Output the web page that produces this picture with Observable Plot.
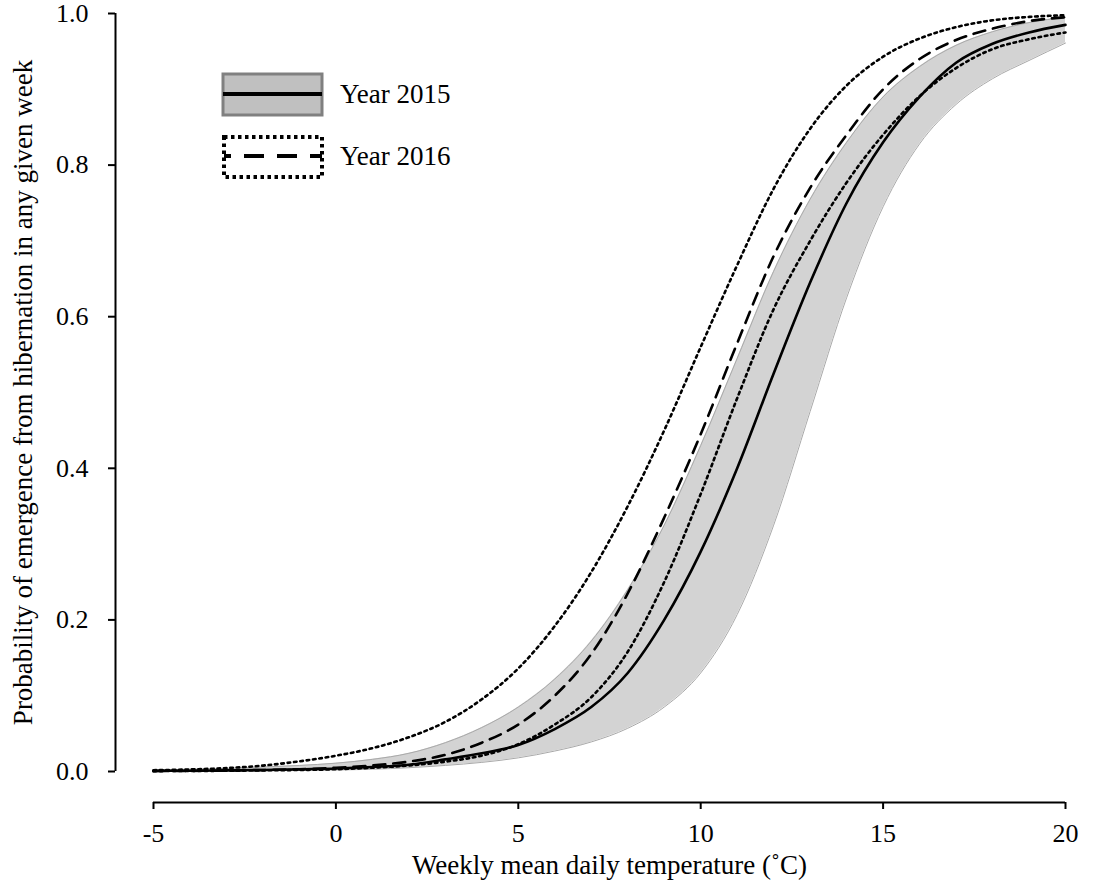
<!DOCTYPE html>
<html>
<head>
<meta charset="utf-8">
<script src="https://cdn.jsdelivr.net/npm/d3@7"></script>
<script src="https://cdn.jsdelivr.net/npm/@observablehq/plot@0.6"></script>
<style>
  html, body { margin: 0; padding: 0; background: white; }
</style>
</head>
<body>
<div id="chart"></div>
<script>
// Weekly mean daily temperature (°C)
const temps = [-5,-4,-3,-2,-1,0,1,2,3,4,5,6,7,8,9,10,11,12,13,14,15,16,17,18,19,20];
// 2015 fitted probability and its confidence band
const p2015  = [0.001,0.001,0.0015,0.002,0.003,0.004,0.006,0.009,0.016,0.024,0.035,0.056,0.085,0.13,0.2,0.29,0.40,0.525,0.645,0.75,0.83,0.89,0.935,0.96,0.975,0.985];
const lo2015 = [0.0003,0.0004,0.0006,0.0009,0.0013,0.002,0.003,0.005,0.008,0.012,0.018,0.027,0.039,0.057,0.085,0.13,0.207,0.325,0.475,0.625,0.745,0.828,0.88,0.914,0.938,0.961];
const hi2015 = [0.002,0.003,0.004,0.006,0.008,0.011,0.016,0.024,0.038,0.058,0.085,0.122,0.172,0.24,0.325,0.43,0.545,0.66,0.755,0.83,0.89,0.93,0.958,0.976,0.988,0.995];
// 2016 fitted probability and its confidence limits
const p2016  = [0.0005,0.0008,0.0012,0.002,0.003,0.005,0.008,0.013,0.022,0.038,0.062,0.1,0.155,0.235,0.335,0.445,0.565,0.68,0.77,0.84,0.9,0.94,0.965,0.98,0.99,0.995];
const lo2016 = [0.0005,0.0007,0.001,0.0015,0.002,0.003,0.005,0.008,0.013,0.021,0.036,0.062,0.098,0.158,0.25,0.366,0.4925,0.61,0.70,0.777,0.84,0.891,0.928,0.953,0.966,0.975];
const hi2016 = [0.0017,0.0027,0.0045,0.0078,0.0134,0.0208,0.0308,0.0452,0.0654,0.0953,0.136,0.192,0.263,0.35,0.45,0.56,0.668,0.769,0.848,0.905,0.943,0.967,0.982,0.991,0.9955,0.9978];

const xTicks = [-5, 0, 5, 10, 15, 20];
const yTicks = [0, 0.2, 0.4, 0.6, 0.8, 1.0];
const xDomain = [-5, 20];
const yDomain = [0, 1];
const xTitle = "Weekly mean daily temperature (\u02DAC)";
const yTitle = "Probability of emergence from hibernation in any given week";
const legendLabels = ["Year 2015", "Year 2016"];

const rows = temps.map((t, i) => ({
  t, p15: p2015[i], lo15: lo2015[i], hi15: hi2015[i],
  p16: p2016[i], lo16: lo2016[i], hi16: hi2016[i]
}));

const curve = "monotone-x";
const font = "'Liberation Serif', 'Times New Roman', serif";

const svg = Plot.plot({
  width: 1099,
  height: 883,
  marginLeft: 115,
  marginRight: 34,
  marginTop: 13,
  marginBottom: 81,
  x: { domain: xDomain, insetLeft: 38 },
  y: { domain: yDomain, insetBottom: 31 },
  style: { fontFamily: font, fontSize: "26px", color: "black", background: "white" },
  marks: [
    Plot.areaY(rows, { x: "t", y1: "lo15", y2: "hi15", fill: "#d3d3d3", curve }),
    Plot.lineY(rows, { x: "t", y: "lo15", stroke: "#a9a9a9", strokeWidth: 1, curve }),
    Plot.lineY(rows, { x: "t", y: "hi15", stroke: "#a9a9a9", strokeWidth: 1, curve }),
    Plot.lineY(rows, { x: "t", y: "hi16", stroke: "black", strokeWidth: 2.6, strokeDasharray: "2.6,3.8", curve }),
    Plot.lineY(rows, { x: "t", y: "lo16", stroke: "black", strokeWidth: 2.6, strokeDasharray: "2.6,3.8", curve }),
    Plot.lineY(rows, { x: "t", y: "p16", stroke: "black", strokeWidth: 2.6, strokeDasharray: "12,8", curve }),
    Plot.lineY(rows, { x: "t", y: "p15", stroke: "black", strokeWidth: 2.6, curve }),
    Plot.ruleY([yDomain[0]], { x1: xDomain[0], x2: xDomain[1], dy: 31, stroke: "black", strokeWidth: 2 }),
    Plot.ruleX([xDomain[0]], { y1: yDomain[0], y2: yDomain[1], dx: -38, stroke: "black", strokeWidth: 2 }),
    Plot.axisX({ ticks: xTicks, tickFormat: d => String(d), tickSize: 7, tickPadding: 14, fontSize: 26, strokeWidth: 2, label: null }),
    Plot.axisY({ ticks: yTicks, tickFormat: d3.format(".1f"), tickSize: 7, tickPadding: 20, fontSize: 26, strokeWidth: 2, label: null }),
    Plot.text([xTitle], { x: () => (xDomain[0] + xDomain[1]) / 2, text: d => d, frameAnchor: "bottom", lineAnchor: "bottom", textAnchor: "middle", dy: 71, fontSize: 27, fill: "black" }),
    Plot.text([yTitle], { y: () => (yDomain[0] + yDomain[1]) / 2, text: d => d, frameAnchor: "left", textAnchor: "middle", rotate: -90, dx: -92, fontSize: 27, fill: "black" })
  ]
});

// Legend (drawn in the plot's SVG)
const g = d3.select(svg).append("g").attr("font-family", font).attr("font-size", 27).attr("text-anchor", "start");
// 2015 entry
g.append("rect").attr("x", 223).attr("y", 74).attr("width", 99).attr("height", 41)
  .attr("fill", "#c0c0c0").attr("stroke", "#808080").attr("stroke-width", 3);
g.append("line").attr("x1", 223).attr("x2", 322).attr("y1", 94).attr("y2", 94)
  .attr("stroke", "black").attr("stroke-width", 4);
g.append("text").attr("x", 340).attr("y", 103).attr("text-anchor", "start").text(legendLabels[0]);
// 2016 entry
g.append("rect").attr("x", 224).attr("y", 137).attr("width", 98).attr("height", 40)
  .attr("fill", "none").attr("stroke", "black").attr("stroke-width", 4).attr("stroke-dasharray", "3.5,3.5");
g.append("line").attr("x1", 224).attr("x2", 322).attr("y1", 156).attr("y2", 156)
  .attr("stroke", "black").attr("stroke-width", 4).attr("stroke-dasharray", "20,13").attr("stroke-dashoffset", 13);
g.append("text").attr("x", 340).attr("y", 165).attr("text-anchor", "start").text(legendLabels[1]);

document.getElementById("chart").appendChild(svg);
</script>
</body>
</html>
